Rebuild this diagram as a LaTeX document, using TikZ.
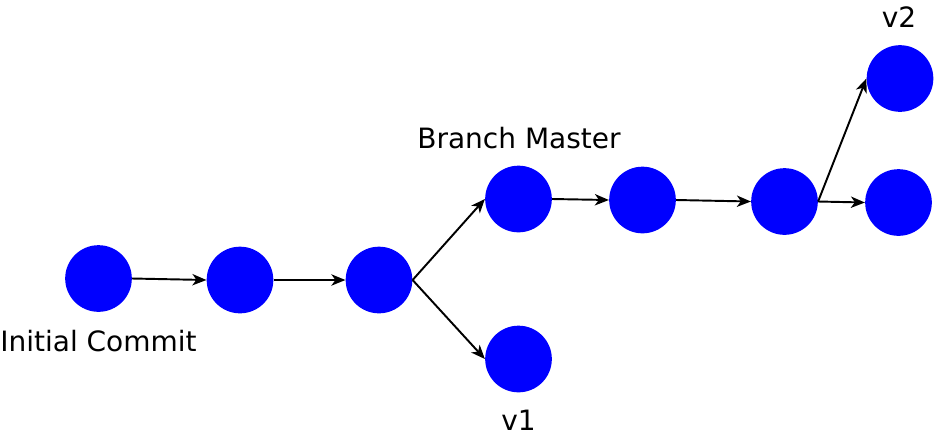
\documentclass[tikz,border=0pt]{standalone}
\usepackage{fontspec}
\setmainfont{DejaVu Sans}
\usetikzlibrary{arrows.meta}
\begin{document}
\begin{tikzpicture}[x=0.75pt,y=-0.75pt,
  commit/.style={circle,fill=blue,minimum size=50pt,inner sep=0pt},
  lbl/.style={font=\fontsize{21}{25}\selectfont,inner sep=0pt,anchor=base},
  link/.style={-{Stealth[length=10.5pt,width=8.5pt,inset=3pt]},line width=1.45pt}]
\useasboundingbox (0,0) rectangle (935,437);
\node[commit] (c1) at (98.5,278.5) {};
\node[commit] (c2) at (240,280) {};
\node[commit] (c3) at (379,280) {};
\node[commit] (c4) at (518.5,199) {};
\node[commit] (c5) at (518.5,359) {};
\node[commit] (c6) at (642.5,200) {};
\node[commit] (c7) at (784.5,201.5) {};
\node[commit] (c8) at (900,78.5) {};
\node[commit] (c9) at (898.5,202.5) {};
\node[lbl] (l1) at (98.5,351) {Initial Commit};
\node[lbl] (l2) at (519,148) {Branch Master};
\node[lbl] (l3) at (518.5,430) {v1};
\node[lbl] (l4) at (899,27) {v2};
\draw[link] (c1.east) -- (c2.west);
\draw[link] (c2.east) -- (c3.west);
\draw[link] (c3.east) -- (c4.west);
\draw[link] (c3.east) -- (c5.west);
\draw[link] (c4.east) -- (c6.west);
\draw[link] (c6.east) -- (c7.west);
\draw[link] (c7.east) -- (c8.west);
\draw[link] (c7.east) -- (c9.west);
\end{tikzpicture}
\end{document}
